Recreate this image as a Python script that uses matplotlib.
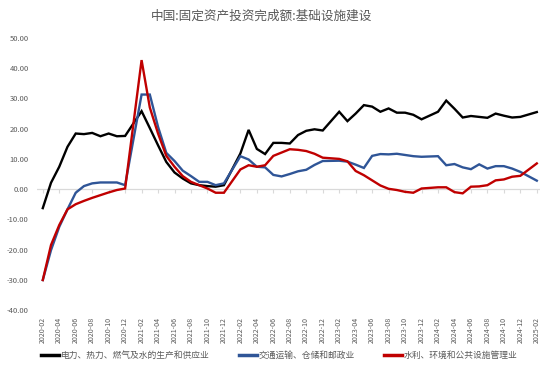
import matplotlib
matplotlib.use('Agg')
import matplotlib.pyplot as plt
import pandas as pd

plt.rcParams['font.family'] = ['Noto Sans CJK SC', 'DejaVu Sans']

# 月份（1月无数据，1-2月合并公布）
meses = [d.strftime('%Y-%m') for d in pd.date_range('2020-02-01', '2025-02-01', freq='MS') if d.month != 1]

# 累计同比(%)
energia = [-6.3, 2.1, 7.4, 14.0, 18.4, 18.2, 18.6, 17.5, 18.4, 17.5, 17.6,
           25.8, 20.2, 14.5, 9.0, 5.5, 3.5, 1.9, 1.3, 1.0, 0.8, 1.3,
           11.8, 19.6, 13.3, 11.6, 15.3, 15.3, 15.1, 17.9, 19.3, 19.8, 19.4,
           25.6, 22.5, 25.0, 27.8, 27.3, 25.6, 26.7, 25.3, 25.3, 24.6, 23.1,
           25.6, 29.3, 26.6, 23.7, 24.2, 23.9, 23.6, 25.0, 24.3, 23.7, 23.9,
           25.5]
transporte = [-30.1, -20.2, -12.5, -6.7, -1.2, 1.0, 1.9, 2.2, 2.2, 2.2, 1.3,
              31.3, 31.3, 20.6, 12.0, 9.3, 6.1, 4.3, 2.4, 2.4, 1.3, 1.9,
              10.9, 9.8, 7.4, 7.2, 4.7, 4.2, 5.0, 5.9, 6.4, 8.0, 9.3,
              9.4, 9.1, 8.1, 7.0, 11.0, 11.6, 11.5, 11.7, 11.3, 10.9, 10.7,
              10.9, 7.9, 8.3, 7.2, 6.6, 8.2, 6.8, 7.6, 7.6, 6.8, 5.7,
              2.8]
agua = [-30.1, -18.5, -11.9, -6.7, -5.0, -3.9, -2.9, -2.0, -1.1, -0.3, 0.2,
        42.7, 27.0, 18.4, 11.0, 7.4, 4.3, 2.4, 1.3, 0.2, -1.2, -1.2,
        6.5, 7.9, 7.4, 7.9, 11.0, 12.1, 13.2, 13.0, 12.6, 11.7, 10.4,
        10.0, 9.2, 6.0, 4.6, 2.9, 1.2, 0.1, -0.3, -0.9, -1.2, 0.2,
        0.6, 0.6, -1.0, -1.4, 0.8, 0.9, 1.3, 2.9, 3.2, 4.1, 4.4,
        8.5]

nomes = ['电力、热力、燃气及水的生产和供应业', '交通运输、仓储和邮政业', '水利、环境和公共设施管理业']
cores = ['#000000', '#2F5597', '#C00000']

# posição em meses desde 2020-02 (eixo de datas)
def mes_idx(s):
    a, m = int(s[:4]), int(s[5:])
    return (a - 2020) * 12 + m - 2

x = [mes_idx(s) for s in meses]
ticks = list(range(0, 61, 2))
rotulos = [pd.Timestamp('2020-02-01') + pd.DateOffset(months=t) for t in ticks]
rotulos = [r.strftime('%Y-%m') for r in rotulos]

fig = plt.figure(figsize=(5.5, 3.73), dpi=100)
ax = fig.add_axes([0.0673, 0.169, 0.9147, 0.729])

for serie, cor, nome in zip([energia, transporte, agua], cores, nomes):
    ax.plot(x, serie, color=cor, linewidth=1.7, label=nome, solid_joinstyle='miter')

ax.set_xlim(-0.7, 60.4)
ax.set_ylim(-40, 50)
ax.set_yticks(range(-40, 51, 10))
ax.set_yticklabels([f'{v:.2f}' for v in range(-40, 51, 10)])
ax.set_xticks(ticks)
ax.set_xticklabels(rotulos, rotation=90)
ax.tick_params(axis='y', length=0, pad=6, labelsize=5.5, labelcolor='#595959')
ax.tick_params(axis='x', length=0, pad=5, labelsize=5.1, labelcolor='#595959')
for s in ax.spines.values():
    s.set_visible(False)

# linha do zero com marcas
ax.axhline(0, color='#D9D9D9', linewidth=0.9, zorder=0)
eixo0 = ax.secondary_xaxis(40 / 90)
eixo0.set_xticks(ticks)
eixo0.tick_params(axis='x', direction='out', length=3, color='#D9D9D9', labelbottom=False, labeltop=False)
for s in eixo0.spines.values():
    s.set_visible(False)

fig.text(0.475, 0.957, '中国:固定资产投资完成额:基础设施建设', ha='center', va='center',
         fontsize=9.1, color='#595959')

leg = fig.legend(loc='center', bbox_to_anchor=(0.508, 0.048), ncol=3, frameon=False,
                 fontsize=6.3, handlelength=2.0, handletextpad=0.2, columnspacing=3.4,
                 labelcolor='#595959')
for h in leg.get_lines():
    h.set_linewidth(2.5)

fig.savefig('out.png', dpi=100)
